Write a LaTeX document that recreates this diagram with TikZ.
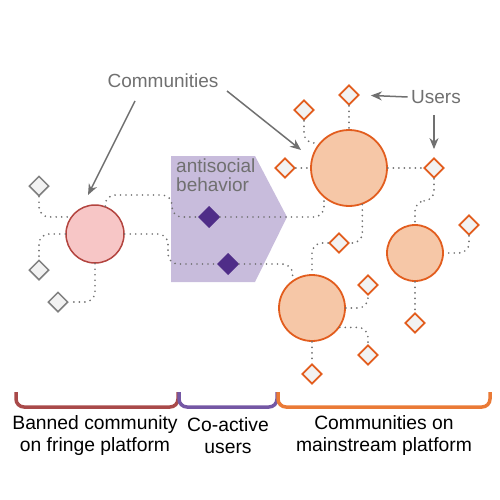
\documentclass[tikz,border=0pt]{standalone}
\usepackage{fontspec}
\setmainfont{Liberation Sans}
\usetikzlibrary{shapes.geometric, arrows.meta}
\definecolor{banfill}{HTML}{F7C6C6}
\definecolor{banline}{HTML}{B3443F}
\definecolor{mainfill}{HTML}{F6C7A7}
\definecolor{mainline}{HTML}{E25D1E}
\definecolor{userfill}{HTML}{F2F2F2}
\definecolor{greyline}{HTML}{7F7F7F}
\definecolor{zone}{HTML}{C8BCDC}
\definecolor{coactive}{HTML}{4F2D88}
\definecolor{annot}{HTML}{707070}
\definecolor{bracered}{HTML}{A94A4A}
\definecolor{bracepurple}{HTML}{7457A4}
\definecolor{braceorange}{HTML}{EA7A36}
\tikzset{>={Stealth[length=11pt,width=9pt]}}
\tikzset{
  banned/.style={circle, draw=banline, fill=banfill, line width=1.5pt, inner sep=0pt},
  mainstream/.style={circle, draw=mainline, fill=mainfill, line width=1.8pt, inner sep=0pt},
  user/.style={diamond, draw=mainline, fill=userfill, line width=1.8pt, inner sep=0pt, minimum width=20pt, minimum height=20pt},
  greyuser/.style={diamond, draw=greyline, fill=userfill, line width=1.5pt, inner sep=0pt, minimum width=20pt, minimum height=20pt},
  couser/.style={diamond, draw=coactive, fill=coactive, line width=1pt, inner sep=0pt, minimum width=21pt, minimum height=21pt},
  link/.style={draw=annot, line width=1.9pt, line cap=round, dash pattern=on 0pt off 5.5pt, rounded corners=10pt},
  annotarrow/.style={->, draw=annot, line width=1.5pt},
  annottext/.style={text=annot, font=\fontsize{19}{19}\selectfont},
  brace/.style={line width=3.5pt, rounded corners=8pt},
  caption/.style={align=center, font=\fontsize{19.3}{22}\selectfont}
}
\begin{document}
\begin{tikzpicture}[x=1pt, y=-1pt]
    \useasboundingbox (0,0) rectangle (500,500);
    \fill[zone] (171,156) -- (255,156) -- (287,217) -- (255,282) -- (171,282) -- cycle;
    \node[annottext, anchor=north west, align=left, inner sep=0pt] (asb) at (176,159) {antisocial\\behavior};
    \node[banned, minimum size=58pt] (ban) at (95,234) {};
    \node[mainstream, minimum size=76pt] (a) at (349,168) {};
    \node[mainstream, minimum size=66pt] (b) at (312,308) {};
    \node[mainstream, minimum size=56pt] (c) at (415,253) {};
    \node[greyuser] (g1) at (39,186) {};
    \node[greyuser] (g2) at (39,270) {};
    \node[greyuser] (g3) at (58,302) {};
    \node[couser] (p1) at (209,217) {};
    \node[couser] (p2) at (228,264) {};
    \node[user] (u1) at (349,95) {};
    \node[user] (u2) at (304,110) {};
    \node[user] (u3) at (285,168) {};
    \node[user] (u4) at (434,168) {};
    \node[user] (u5) at (469,225) {};
    \node[user] (u6) at (339,243) {};
    \node[user] (u7) at (368,285) {};
    \node[user] (u8) at (368,355) {};
    \node[user] (u9) at (312,374) {};
    \node[user] (u10) at (415,323) {};
    \draw[link] (g1.south) |- (ban.145);
    \draw[link] (ban.west) -| (g2.north);
    \draw[link] (ban.south) |- (g3.east);
    \draw[link] (ban.70) |- (172,195) |- (p1.west);
    \draw[link] (ban.east) -- (168,234) |- (p2.west);
    \draw[link] (p1.east) -| (a.230);
    \draw[link] (p2.east) -| (b.125);
    \draw[link] (u1.south) -- (a.north);
    \draw[link] (u2.south) |- (a.140);
    \draw[link] (u3.east) -- (a.west);
    \draw[link] (a.east) -- (u4.west);
    \draw[link] (u4.south) -- ++(0,22) -| (c.north);
    \draw[link] (u5.south) |- (c.east);
    \draw[link] (a.290) |- (u6.east);
    \draw[link] (u6.west) -| (b.north);
    \draw[link] (b.east) -| (u7.south);
    \draw[link] (b.-35) -| (u8.north);
    \draw[link] (b.south) -- (u9.north);
    \draw[link] (c.south) -- (u10.north);
    \node[annottext] (comm) at (163,81) {Communities};
    \node[annottext] (users) at (436,97) {Users};
    \coordinate (commleft) at (135,101);
    \coordinate (commright) at (227,91);
    \coordinate (usersdown) at (434,115);
    \draw[annotarrow] (commleft) -- (88,195);
    \draw[annotarrow] (commright) -- (301,150);
    \draw[annotarrow, shorten >=11pt] (users.west) -- (u1.east);
    \draw[annotarrow, shorten >=8pt] (usersdown) -- (u4.north);
    \draw[brace, bracered] (16,392) -- (16,407) -- (178,407) -- (178,392);
    \draw[brace, bracepurple] (179,392) -- (179,407) -- (277,407) -- (277,392);
    \draw[brace, braceorange] (278,392) -- (278,407) -- (490,407) -- (490,392);
    \node[caption] (fringe) at (95,436) {Banned community\\on fringe platform};
    \node[caption] (coact) at (228,436) {Co-active\\users};
    \node[caption] (mainst) at (384,436) {Communities on\\mainstream platform};
\end{tikzpicture}
\end{document}
